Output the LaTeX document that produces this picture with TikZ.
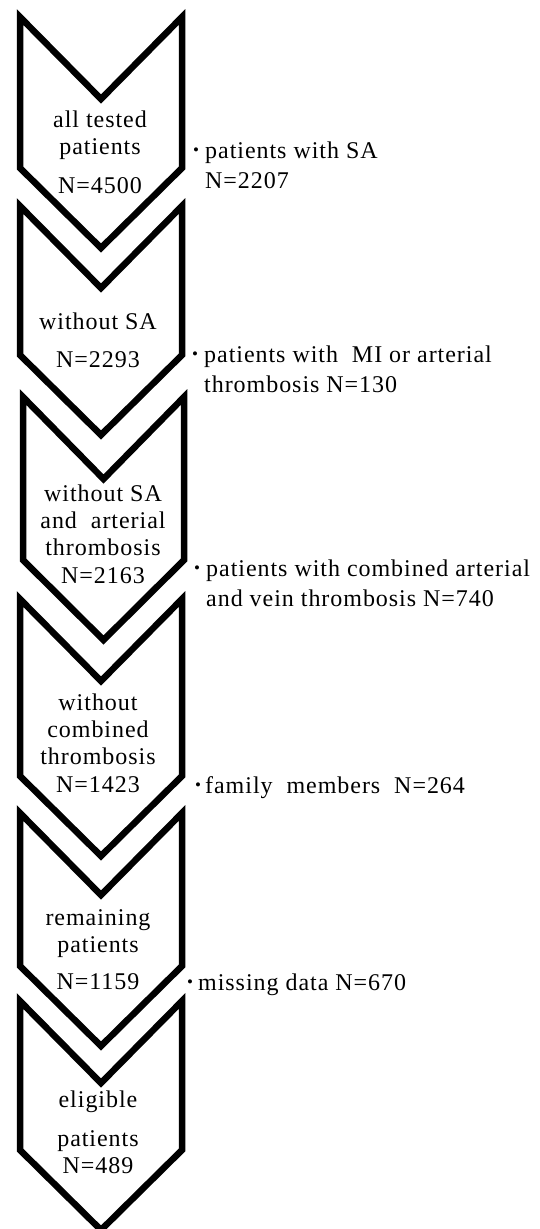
\documentclass[tikz,border=0pt]{standalone}
\usepackage{fontspec}
\setmainfont{Liberation Serif}[LetterSpace=4]
\begin{document}
\begin{tikzpicture}[x=1pt,y=-1pt,
  chev/.style={draw=black,line width=6.5pt,line join=miter},
  ctext/.style={font=\fontsize{24}{27.3}\selectfont,inner sep=0pt,anchor=base,align=center},
  ltext/.style={font=\fontsize{24}{29.5}\selectfont,inner sep=0pt,anchor=base west,align=left},
  bul/.style={font=\fontsize{17}{17}\selectfont,inner sep=0pt}]
\useasboundingbox (0,0) rectangle (540,1229);
\fill[white] (0,0) rectangle (540,1229);
% chevrons
\foreach \t/\s/\l/\r [count=\i] in {17/168/20/182, 206/355/20/182, 397/560/23/184, 599/776/20/182, 813/966/20/182, 1001/1150/20/182}{
  \pgfmathsetmacro\c{(\l+\r)/2}
  \draw[chev] (\l,\t) -- (\c,\t+82) -- (\r,\t) -- (\r,\s) -- (\c,\s+80) -- (\l,\s) -- cycle;
}
% chevron texts (anchored at the baseline of the last line)
\node[ctext] (c1) at (100,193) {all tested\\patients\\[11pt]N=4500};
\node[ctext] (c2) at (98,367) {without SA\\[10pt]N=2293};
\node[ctext] (c3) at (103,583) {without SA\\and\ \ arterial\\thrombosis\\N=2163};
\node[ctext] (c4) at (98,792) {without\\combined\\thrombosis\\N=1423};
\node[ctext] (c5) at (98,989) {remaining\\patients\\[9pt]N=1159};
\node[ctext] (c6) at (98,1173) {eligible\\[12pt]patients\\[-1pt]N=489};
% side labels
\node[bul] (b1) at (196,152) {\textbullet};
\node[ltext] (l1) at (205,188) {patients with SA\\N=2207};
\node[bul] (b2) at (195,356) {\textbullet};
\node[ltext] (l2) at (204,392) {patients with\ \ MI or arterial\\thrombosis N=130};
\node[bul] (b3) at (197,570) {\textbullet};
\node[ltext] (l3) at (206,606) {patients with combined arterial\\and vein thrombosis N=740};
\node[bul] (b4) at (198,787) {\textbullet};
\node[ltext] (l4) at (205,793) {family\ \ members\ \ N=264};
\node[bul] (b5) at (190,984) {\textbullet};
\node[ltext] (l5) at (198,990) {missing data N=670};
\end{tikzpicture}
\end{document}
